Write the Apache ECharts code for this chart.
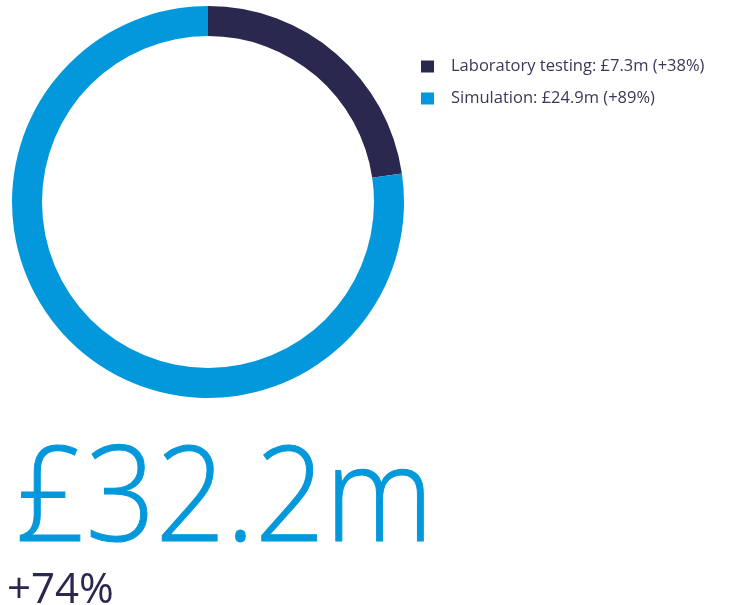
<!DOCTYPE html>
<html>
<head>
<meta charset="utf-8">
<script src="https://cdn.jsdelivr.net/npm/echarts@6/dist/echarts.min.js"></script>
<style>
html, body { margin: 0; padding: 0; background: #fff; }
#chart { width: 733px; height: 605px; }
</style>
</head>
<body>
<div id="chart"></div>
<script>
// spend by category, £m and growth
var categories = ['Laboratory testing', 'Simulation'];
var values = [7.3, 24.9];
var growth = ['+38%', '+89%'];
var colors = ['#2b284f', '#0398db'];
var totalLabel = '£32.2m';
var totalGrowth = '+74%';

var chart = echarts.init(document.getElementById('chart'));

var data = categories.map(function(name, i) {
    return { name: name, value: values[i], itemStyle: { color: colors[i] } };
});

var option = {
    animation: false,
    legend: {
        orient: 'vertical',
        left: 416,
        top: 53,
        padding: 5,
        itemWidth: 13,
        itemHeight: 12,
        itemGap: 15,
        icon: 'rect',
        textStyle: {
            fontFamily: 'Open Sans',
            fontSize: 16.5,
            color: '#3a3858',
            padding: [3, 0, 0, 12]
        },
        formatter: function(name) {
            var i = categories.indexOf(name);
            return name + ': £' + values[i] + 'm (' + growth[i] + ')';
        }
    },
    series: [{
        type: 'pie',
        center: [208, 202],
        radius: [166, 196],
        startAngle: 90,
        clockwise: true,
        label: { show: false },
        labelLine: { show: false },
        emphasis: { disabled: true },
        data: data
    }],
    graphic: [
        {
            type: 'text',
            left: 15,
            top: 437,
            scaleX: 0.93,
            style: {
                text: totalLabel,
                fontFamily: 'Open Sans',
                fontWeight: 300,
                fontSize: 132,
                fill: '#0398db',
                stroke: '#0398db',
                lineWidth: 1
            }
        },
        {
            type: 'text',
            left: 7,
            top: 570,
            style: {
                text: totalGrowth,
                fontFamily: 'Open Sans',
                fontSize: 42,
                fill: '#2b284f'
            }
        }
    ]
};

chart.setOption(option);
</script>
</body>
</html>
